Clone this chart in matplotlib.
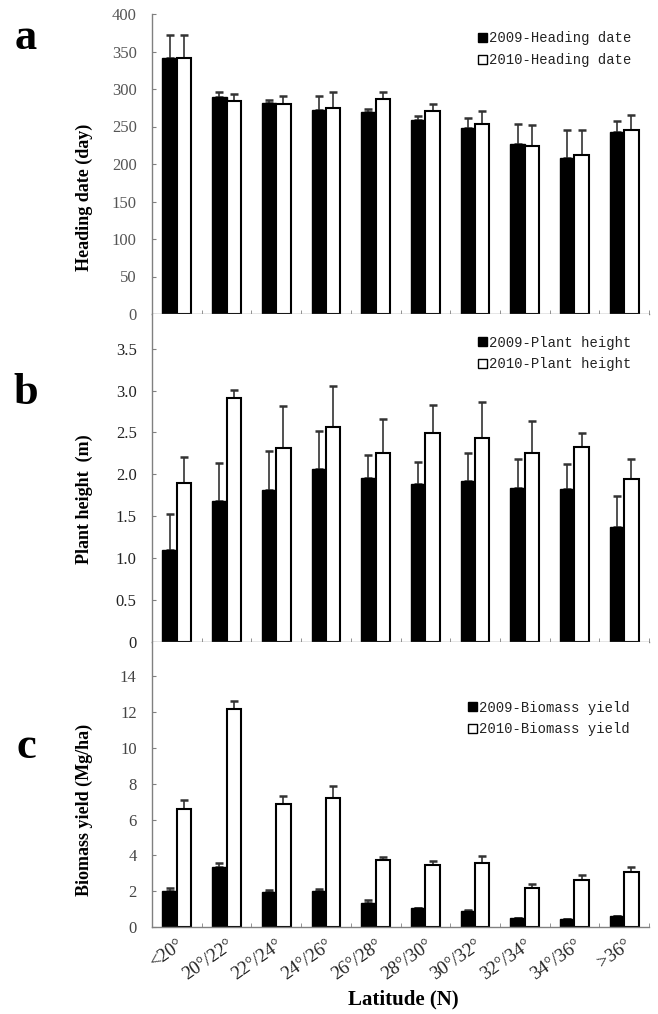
import matplotlib
matplotlib.use("Agg")
import matplotlib.pyplot as plt
import numpy as np
from matplotlib.patches import Patch

categories = ["<20°", "20°/22°", "22°/24°", "24°/26°", "26°/28°",
              "28°/30°", "30°/32°", "32°/34°", "34°/36°", ">36°"]

# Heading date (day)
hd_2009 = [341, 290, 281, 272, 269, 259, 248, 227, 208, 243]
hd_2009_top = [372, 296, 285, 291, 274, 264, 262, 254, 245, 258]
hd_2010 = [341, 284, 280, 275, 287, 271, 253, 224, 212, 245]
hd_2010_top = [372, 293, 291, 296, 296, 280, 271, 252, 246, 265]

# Plant height (m)
ph_2009 = [1.10, 1.68, 1.81, 2.06, 1.96, 1.89, 1.92, 1.84, 1.82, 1.37]
ph_2009_top = [1.53, 2.14, 2.28, 2.52, 2.23, 2.15, 2.25, 2.18, 2.12, 1.74]
ph_2010 = [1.90, 2.91, 2.32, 2.57, 2.26, 2.49, 2.43, 2.26, 2.33, 1.95]
ph_2010_top = [2.21, 3.01, 2.82, 3.05, 2.66, 2.83, 2.86, 2.64, 2.49, 2.18]

# Biomass yield (Mg/ha)
by_2009 = [2.03, 3.35, 1.96, 2.03, 1.36, 1.04, 0.88, 0.50, 0.43, 0.61]
by_2009_top = [2.16, 3.58, 2.09, 2.14, 1.49, 1.06, 0.93, 0.52, 0.45, 0.63]
by_2010 = [6.57, 12.2, 6.89, 7.21, 3.72, 3.44, 3.59, 2.16, 2.64, 3.07]
by_2010_top = [7.09, 12.63, 7.34, 7.86, 3.93, 3.67, 3.99, 2.40, 2.89, 3.37]

panels = [
    dict(v9=hd_2009, t9=hd_2009_top, v10=hd_2010, t10=hd_2010_top,
         ylim=400.0, ticks=list(range(0, 401, 50)), ticklabels=[str(t) for t in range(0, 401, 50)],
         leg=["2009-Heading date", "2010-Heading date"], ylabel="Heading date (day)", letter="a",
         legpos=(0.655, 0.942), tickcolor="#555555"),
    dict(v9=ph_2009, t9=ph_2009_top, v10=ph_2010, t10=ph_2010_top,
         ylim=3.914, ticks=[0, 0.5, 1.0, 1.5, 2.0, 2.5, 3.0, 3.5],
         ticklabels=["0", "0.5", "1.0", "1.5", "2.0", "2.5", "3.0", "3.5"],
         leg=["2009-Plant height", "2010-Plant height"], ylabel="Plant height  (m)", letter="b",
         legpos=(0.655, 0.934), tickcolor="#222222"),
    dict(v9=by_2009, t9=by_2009_top, v10=by_2010, t10=by_2010_top,
         ylim=15.92, ticks=list(range(0, 15, 2)), ticklabels=[str(t) for t in range(0, 15, 2)],
         leg=["2009-Biomass yield", "2010-Biomass yield"], ylabel="Biomass yield (Mg/ha)", letter="c",
         legpos=(0.635, 0.794), tickcolor="#444444"),
]

W, H = 658, 1014
fig = plt.figure(figsize=(W / 100, H / 100), dpi=100)

ax_px = [(14, 314), (314, 642), (642, 927)]
left_px, right_px = 152, 649
ylabel_y = [197, 499, 810]
letter_y = [38, 393, 747]

x = np.arange(len(categories))
bw = 0.29
axis_grey = "#808080"

for k, p in enumerate(panels):
    top, bot = ax_px[k]
    ax = fig.add_axes([left_px / W, 1 - bot / H, (right_px - left_px) / W, (bot - top) / H])
    v9 = np.array(p["v9"]); v10 = np.array(p["v10"])
    e9 = np.array(p["t9"]) - v9
    e10 = np.array(p["t10"]) - v10
    ax.bar(x - bw / 2, v9, bw, color="black", edgecolor="black", linewidth=1.0, zorder=2)
    ax.bar(x + bw / 2, v10, bw, color="white", edgecolor="black", linewidth=1.5, zorder=2)
    ax.errorbar(x - bw / 2, v9, yerr=[np.zeros_like(e9), e9], fmt="none", ecolor="#333333",
                elinewidth=1.2, capsize=3, capthick=1.8, zorder=1)
    ax.errorbar(x + bw / 2, v10, yerr=[np.zeros_like(e10), e10], fmt="none", ecolor="#333333",
                elinewidth=1.2, capsize=3, capthick=1.8, zorder=1)
    ax.set_xlim(-0.5, len(categories) - 0.5)
    ax.set_ylim(0, p["ylim"])
    for s in ["top", "right"]:
        ax.spines[s].set_visible(False)
    for s in ["left", "bottom"]:
        ax.spines[s].set_color(axis_grey)
        ax.spines[s].set_linewidth(1.0)
    ax.set_yticks(p["ticks"])
    ax.set_yticklabels(p["ticklabels"], family="Liberation Serif", fontsize=12, color=p["tickcolor"])
    ax.tick_params(axis="y", direction="in", length=3, color=axis_grey, pad=11)
    ax.set_xticks(np.arange(-0.5, len(categories), 1.0), minor=True)
    ax.tick_params(axis="x", which="minor", direction="in", length=3, color=axis_grey)
    ax.set_xticks(x)
    ax.tick_params(axis="x", which="major", length=0)
    if k == 2:
        ax.set_xticklabels(categories, rotation=35, ha="right", rotation_mode="anchor",
                           family="Liberation Serif", fontsize=13.5, color="#222222")
        ax.tick_params(axis="x", which="major", pad=7)
    else:
        ax.set_xticklabels([])
    handles = [Patch(facecolor="black", edgecolor="black"),
               Patch(facecolor="white", edgecolor="black", linewidth=1.0)]
    ax.legend(handles, p["leg"], loc="upper left", bbox_to_anchor=p["legpos"], frameon=False,
              prop=dict(family="Liberation Mono", size=10), handlelength=0.65, handleheight=0.65,
              handletextpad=0.15, labelspacing=0.55, borderpad=0, borderaxespad=0,
              labelcolor="#222222")
    fig.text(84 / W, 1 - ylabel_y[k] / H, p["ylabel"], rotation=90, ha="center", va="center",
             family="Liberation Serif", fontweight="bold", fontsize=13)
    fig.text(26 / W, 1 - letter_y[k] / H, p["letter"], ha="center", va="center",
             family="Liberation Serif", fontweight="bold", fontsize=32)

fig.text(403 / W, 1 - 999 / H, "Latitude (N)", ha="center", va="center",
         family="Liberation Serif", fontweight="bold", fontsize=15)

fig.savefig("out.png", dpi=100)
